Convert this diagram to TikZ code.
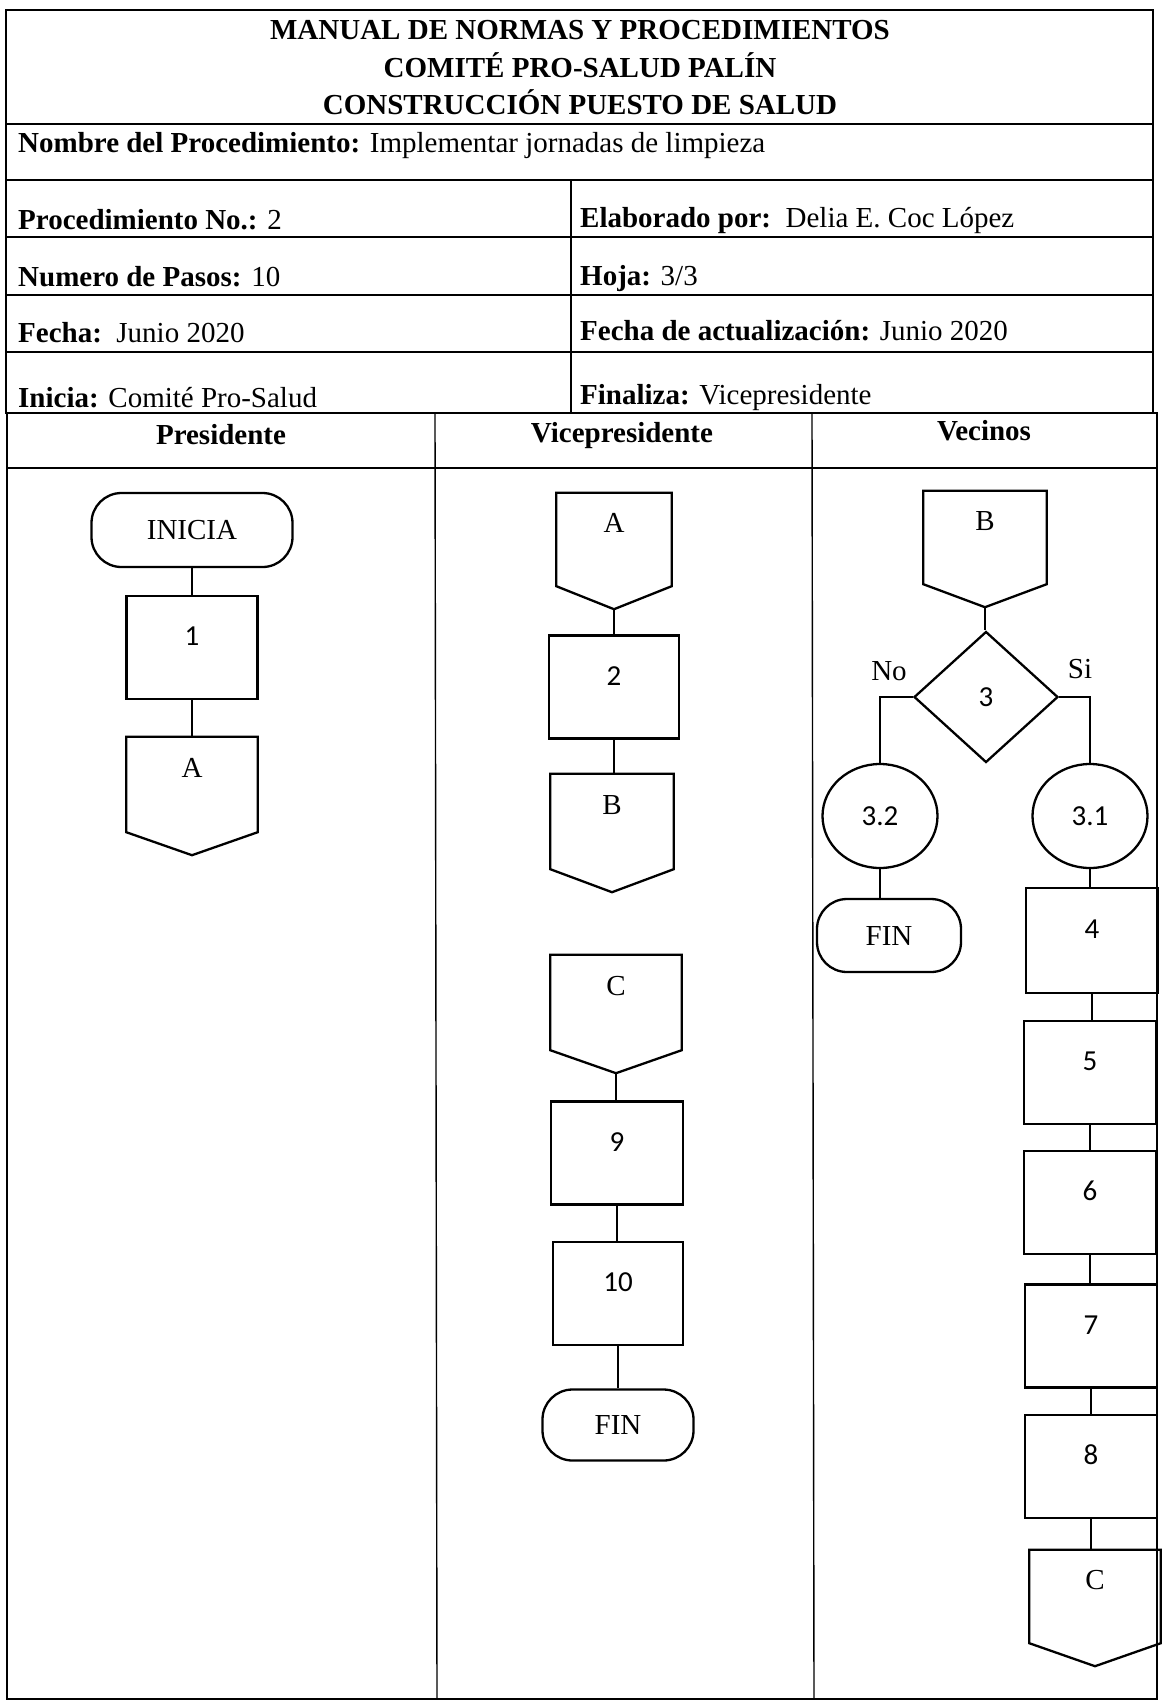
\documentclass[tikz,border=0pt]{standalone}
\usepackage{fontspec}
\setmainfont{Liberation Serif}
\newfontfamily\numfont{Carlito}
\usetikzlibrary{shapes.geometric,calc}
\newcommand\OffPg[1]{\draw[shp] (#1.north west) -- (#1.north east) -- ([yshift=23pt]#1.south east) -- (#1.south) -- ([yshift=23pt]#1.south west) -- cycle;}
\begin{document}
\begin{tikzpicture}[x=1pt,y=-1pt,
  every node/.style={font=\fontsize{29}{34}\selectfont},
  tbl/.style={line width=1.4pt},
  shp/.style={draw, line width=2.3pt},
  conn/.style={line width=1.8pt},
  txt/.style={inner sep=0pt},
  proc/.style={shp, rectangle, minimum width=131pt, minimum height=103pt, inner sep=0pt, text height=0pt, text depth=4pt, font=\numfont\fontsize{29}{34}\selectfont},
  term/.style={shp, rectangle, rounded corners=30pt, inner sep=0pt},
  offp/.style={rectangle, inner sep=0pt, minimum height=118pt, text height=0pt, text depth=37pt},
  dec/.style={shp, diamond, inner sep=0pt, minimum width=144pt, minimum height=131pt, font=\numfont\fontsize{29}{34}\selectfont},
  circ/.style={shp, ellipse, inner sep=0pt, font=\numfont\fontsize{29}{34}\selectfont}
]
\useasboundingbox (0,0) rectangle (1162,1701);
\fill[white] (0,0) rectangle (1162,1701);

% ---------- header table ----------
\draw[tbl] (6,10) rectangle (1153,413);
\foreach \yy in {124,180,237,295,352} \draw[tbl] (6,\yy) -- (1153,\yy);
\draw[tbl] (571,180) -- (571,413);

\node[txt, anchor=base] (h1) at (580,39) {\textbf{MANUAL DE NORMAS Y PROCEDIMIENTOS}};
\node[txt, anchor=base] (h2) at (580,77) {\textbf{COMITÉ PRO-SALUD PALÍN}};
\node[txt, anchor=base] (h3) at (580,114) {\textbf{CONSTRUCCIÓN PUESTO DE SALUD}};

\node[txt, anchor=base west] (r1) at (18,152) {\textbf{Nombre del Procedimiento:} Implementar jornadas de limpieza};
\node[txt, anchor=base west] (r2) at (18,229) {\textbf{Procedimiento No.:} 2};
\node[txt, anchor=base west] (r3) at (18,286) {\textbf{Numero de Pasos:} 10};
\node[txt, anchor=base west] (r4) at (18,342) {\textbf{Fecha:}\ \ Junio 2020};
\node[txt, anchor=base west] (r5) at (18,407) {\textbf{Inicia:} Comité Pro-Salud};
\node[txt, anchor=base west] (s1) at (580,227) {\textbf{Elaborado por:}\ \ Delia E. Coc López};
\node[txt, anchor=base west] (s2) at (580,285) {\textbf{Hoja:} 3/3};
\node[txt, anchor=base west] (s3) at (580,340) {\textbf{Fecha de actualización:} Junio 2020};
\node[txt, anchor=base west] (s4) at (580,404) {\textbf{Finaliza:} Vicepresidente};

% ---------- lanes ----------
\draw[tbl] (7,413) rectangle (1157,1699);
\draw[tbl] (7,468) -- (1157,468);
\draw[tbl] (435,413) -- (437,1699);
\draw[tbl] (812,413) -- (814,1699);
\node[txt, anchor=base] (l1) at (221,444) {\textbf{Presidente}};
\node[txt, anchor=base] (l2) at (622,442) {\textbf{Vicepresidente}};
\node[txt, anchor=base] (l3) at (984,440) {\textbf{Vecinos}};

% ---------- Presidente ----------
\node[term, minimum width=201pt, minimum height=74pt] (ini) at (192,530) {INICIA};
\node[proc] (p1) at (192,647.5) {1};
\node[offp, minimum width=131pt] (pA) at (192,796) {A};
\OffPg{pA}
\draw[conn] (ini) -- (p1);
\draw[conn] (p1) -- (pA);

% ---------- Vicepresidente ----------
\node[offp, minimum width=115pt, minimum height=116pt] (vA) at (614,551) {A};
\OffPg{vA}
\node[proc, minimum width=130pt] (v2) at (614,687) {2};
\node[offp, minimum width=123pt] (vB) at (612,833) {B};
\OffPg{vB}
\node[offp, minimum width=131pt] (vC) at (616,1014) {C};
\OffPg{vC}
\node[proc, minimum width=132pt] (v9) at (617,1153) {9};
\node[proc, minimum width=130pt] (v10) at (618,1293.5) {10};
\node[term, minimum width=151pt, minimum height=71pt] (vfin) at (618,1425) {FIN};
\draw[conn] (vA.south) -- (vA.south |- v2.north);
\draw[conn] (v2.south) -- (v2.south |- vB.north);
\draw[conn] (vC.south) -- (vC.south |- v9.north);
\draw[conn] (v9.south) -- (v9.south |- v10.north);
\draw[conn] (v10.south) -- (v10.south |- vfin.north);

% ---------- Vecinos ----------
\node[offp, minimum width=123pt, minimum height=116pt] (eB) at (985,549) {B};
\OffPg{eB}
\node[dec] (d3) at (986,697) {3};
\node[circ, minimum width=115pt, minimum height=104pt] (c32) at (880,816) {3.2};
\node[circ, minimum width=115pt, minimum height=104pt] (c31) at (1090,816) {3.1};
\node[term, minimum width=144pt, minimum height=73pt] (efin) at (889,935.5) {FIN};
\node[proc, minimum width=132pt, minimum height=105pt] (b4) at (1092,940.5) {4};
\node[proc, minimum width=132pt] (b5) at (1090,1072.5) {5};
\node[proc, minimum width=132pt] (b6) at (1090,1202.5) {6};
\node[proc, minimum width=132pt] (b7) at (1091,1336) {7};
\node[proc, minimum width=132pt] (b8) at (1091,1466.5) {8};
\node[offp, minimum width=131pt, minimum height=116pt] (eC) at (1095,1608) {C};
\OffPg{eC}
\node[txt] (no) at (889,671) {No};
\node[txt] (si) at (1080,669) {Si};

\draw[conn] (eB.south) -- (eB.south |- d3.north);
\draw[conn] (d3.west) -| (c32.north);
\draw[conn] (d3.east) -| (c31.north);
\draw[conn] (c32.south) -- (c32.south |- efin.north);
\draw[conn] (c31.south) -- (c31.south |- b4.north);
\draw[conn] (b4.south) -- (b4.south |- b5.north);
\draw[conn] (b5.south) -- (b5.south |- b6.north);
\draw[conn] (b6.south) -- (b6.south |- b7.north);
\draw[conn] (b7.south) -- (b7.south |- b8.north);
\draw[conn] (b8.south) -- (b8.south |- eC.north);
\end{tikzpicture}
\end{document}
